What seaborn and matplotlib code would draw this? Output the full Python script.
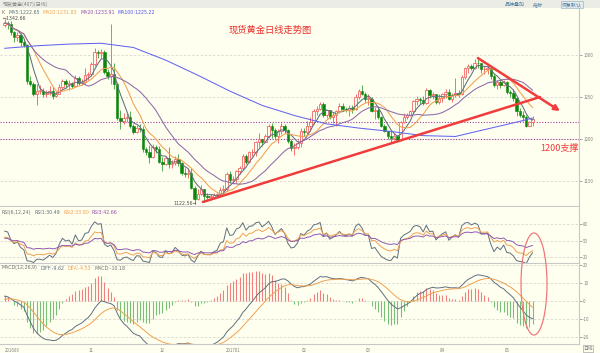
import matplotlib
matplotlib.use("Agg")
import matplotlib.pyplot as plt
from matplotlib.patches import Ellipse, Rectangle
import numpy as np
import pandas as pd
import seaborn as sns

# spot gold daily candles, first bar 2016-09-23, one bar per weekday
start_date = "2016-09-23"
first_open = 1336.0
closes = [
    1338, 1337, 1327, 1322, 1324, 1316,
    1312, 1269, 1266, 1253, 1257, 1257, 1253, 1255, 1257, 1251, 1254, 1262, 1269, 1266, 1267,
    1263, 1273, 1267, 1268, 1276, 1277,
    1289, 1304, 1302, 1304, 1280, 1275, 1277, 1266, 1225, 1222, 1225, 1226, 1216, 1208, 1213,
    1212, 1188, 1184, 1178, 1190, 1188, 1173,
    1170, 1177, 1170, 1171, 1176, 1171, 1160, 1158, 1159, 1142, 1129, 1135, 1140, 1132, 1131,
    1131, 1133, 1134, 1139, 1140, 1158, 1151,
    1152, 1162, 1165, 1180, 1173, 1184, 1185, 1196, 1200, 1196, 1203, 1216, 1211, 1203, 1209,
    1216, 1211, 1198, 1189, 1190, 1195, 1210,
    1208, 1216, 1220, 1233, 1236, 1242, 1228, 1234, 1226, 1229, 1233, 1239, 1236, 1235, 1237,
    1236, 1250, 1257, 1254, 1248,
    1248, 1233, 1234, 1226, 1216, 1209, 1203, 1201, 1204, 1199, 1220, 1226, 1229, 1233, 1245,
    1248, 1247, 1243, 1258, 1252, 1253, 1244, 1249,
    1253, 1256, 1248, 1252, 1255, 1253, 1274, 1285, 1287, 1285, 1291, 1290, 1283, 1283, 1284,
    1275, 1264, 1268, 1264, 1268,
    1256, 1255, 1249, 1233, 1228, 1226, 1215, 1220, 1224,
]
highs = [
    1342.66, 1341, 1340, 1329, 1327, 1326,
    1318, 1313, 1275, 1268, 1266, 1264, 1261, 1258, 1263, 1262, 1257, 1265, 1272, 1271, 1270,
    1268, 1276, 1275, 1271, 1284, 1280,
    1292, 1308, 1306, 1307, 1306, 1283, 1337.4, 1290, 1268, 1234, 1231, 1231, 1233, 1218, 1217,
    1218, 1215, 1191, 1193, 1194, 1193, 1192,
    1178, 1180, 1190, 1175, 1180, 1182, 1173, 1165, 1164, 1165, 1144, 1140, 1145, 1141, 1136,
    1134, 1136, 1136, 1143, 1145, 1161, 1162,
    1156, 1163, 1168, 1182, 1182, 1186, 1188, 1198, 1207, 1200, 1206, 1218, 1219, 1213, 1212,
    1219, 1218, 1212, 1200, 1195, 1199, 1213,
    1213, 1221, 1226, 1236, 1239, 1244, 1244, 1235, 1234, 1232, 1235, 1243, 1243, 1238, 1241,
    1240, 1253, 1259, 1264, 1256,
    1253, 1250, 1238, 1238, 1227, 1218, 1210, 1209, 1207, 1205, 1222, 1231, 1231, 1235, 1247,
    1251, 1250, 1251, 1261, 1259, 1256, 1254, 1253,
    1255, 1260, 1259, 1255, 1273, 1258, 1276, 1286, 1289, 1289, 1295, 1295, 1291, 1287, 1288,
    1284, 1277, 1270, 1270, 1270,
    1269, 1258, 1259, 1239, 1237, 1233, 1229, 1222, 1227,
]
lows = [
    1333, 1331, 1324, 1316, 1317, 1311,
    1310, 1266, 1263, 1251, 1241, 1253, 1250, 1250, 1252, 1248, 1250, 1253, 1260, 1261, 1258,
    1261, 1262, 1264, 1264, 1265, 1270,
    1275, 1287, 1296, 1297, 1277, 1271, 1266, 1259, 1223, 1212, 1218, 1220, 1213, 1206, 1207,
    1208, 1184, 1181, 1171, 1177, 1183, 1171,
    1162, 1169, 1165, 1165, 1169, 1168, 1157, 1155, 1154, 1140, 1122.56, 1127, 1133, 1125, 1128,
    1127, 1128, 1131, 1132, 1135, 1138, 1148,
    1146, 1147, 1158, 1163, 1170, 1172, 1180, 1180, 1190, 1192, 1196, 1201, 1201, 1200, 1195,
    1206, 1207, 1195, 1186, 1181, 1188, 1191,
    1204, 1206, 1210, 1218, 1229, 1235, 1226, 1225, 1224, 1219, 1216, 1231, 1233, 1232, 1227,
    1231, 1234, 1248, 1252, 1244,
    1241, 1232, 1224, 1224, 1214, 1208, 1200, 1195, 1199, 1196, 1198, 1219, 1224, 1227, 1231,
    1240, 1242, 1241, 1242, 1249, 1248, 1242, 1242,
    1244, 1249, 1246, 1244, 1250, 1250, 1252, 1271, 1278, 1282, 1283, 1284, 1278, 1277, 1277,
    1271, 1262, 1260, 1261, 1263,
    1254, 1250, 1245, 1227, 1226, 1221, 1214, 1215, 1215,
]

# MA100 (needs history before the first bar)
ma100_idx = [0, 10, 20, 30, 40, 50, 60, 70, 80, 90, 100, 110, 120, 130, 140, 150, 160, 164]
ma100_val = [1308, 1311, 1313, 1314, 1309, 1294, 1276, 1257, 1240, 1228, 1218, 1213, 1209,
             1204, 1203, 1212, 1221, 1225]

rsi_periods = [6, 12, 24]
rsi_start = [68, 57, 55]
macd_start_diff = 3.0
macd_start_dea = 0.5

month_labels = ["201609", "11", "12", "201701", "02", "03", "04", "05"]
month_starts = ["2016-09-23", "2016-11-01", "2016-12-01", "2017-01-02", "2017-02-01",
                "2017-03-01", "2017-04-03", "2017-05-01"]
price_ticks = [1150, 1200, 1250, 1300]
rsi_ticks = [20, 50, 80]
macd_ticks = [-20, -10, 0, 10, 20]
level_lines = [1220, 1200]

# hand-drawn trend lines (bar index, price)
support_x, support_y = [61.6, 166.3], [1125, 1250]
resist_x, resist_y = [147.0, 172.5], [1296.4, 1233.3]

legend_main = [("K", "#707070"), ("MA5:1222.65", "#5F6F7F"), ("MA10:1231.83", "#F0A050"),
               ("MA20:1233.91", "#9050A8"), ("MA100:1225.22", "#5050F0")]
legend_rsi = [("RSI(6,12,24)", "#707070"), ("RSI1:30.49", "#5F6F7F"), ("RSI2:33.80", "#F0A050"),
              ("RSI3:42.66", "#9050A8")]
legend_macd = [("MACD(12,26,9)", "#707070"), ("DIFF:-9.62", "#5F6F7F"), ("DEA:-4.53", "#F0A050"),
               ("MACD:-10.18", "#707070")]

BG = "#FFFFF0"
RED = "#F05A5A"
GREEN = "#0A870A"
C_MA5, C_MA10, C_MA20, C_MA100 = "#5F6F7F", "#F0A050", "#8E6AA8", "#6464F0"
GRID = "#D8D8D0"
ANNOT = "#F03C3C"

sns.set_style("white", {"axes.facecolor": BG})
plt.rcParams["font.family"] = ["Noto Sans CJK SC", "DejaVu Sans"]
plt.rcParams["axes.unicode_minus"] = False

# ---- data frame and indicators
dates = pd.bdate_range(start_date, periods=len(closes))
df = pd.DataFrame({"x": np.arange(len(closes)), "close": closes, "high": highs, "low": lows})
df["open"] = df["close"].shift(1).fillna(first_open)
for n in (5, 10, 20):
    df[f"ma{n}"] = df["close"].rolling(n, min_periods=1).mean()
ma100 = pd.DataFrame({"x": ma100_idx, "ma100": ma100_val})


def rsi_sma(close, n, start, move=8.0):
    up, ab = start / 100 * move, move
    out = [start]
    for d in np.diff(close):
        up = (max(d, 0) + (n - 1) * up) / n
        ab = (abs(d) + (n - 1) * ab) / n
        out.append(100 * up / ab)
    return out


def ema(values, n, start):
    a, e, out = 2 / (n + 1), start, []
    for v in values:
        e = a * v + (1 - a) * e
        out.append(e)
    return np.array(out)


for i, (n, s) in enumerate(zip(rsi_periods, rsi_start)):
    df[f"rsi{i + 1}"] = rsi_sma(df["close"].values, n, s)
e12 = ema(df["close"], 12, first_open + macd_start_diff)
e26 = ema(df["close"], 26, first_open)
df["diff"] = e12 - e26
df["dea"] = ema(df["diff"], 9, macd_start_dea)
df["macd"] = 2 * (df["diff"] - df["dea"])

# ---- figure layout in pixels (600 x 353)
W, H = 600, 353
fig = plt.figure(figsize=(6, 3.53), dpi=100, facecolor=BG)


def px_axes(top, bottom, right=579):
    return fig.add_axes([0, 1 - bottom / H, right / W, (bottom - top) / H])


ax = px_axes(9, 206)
ax_rsi = px_axes(207, 263)
ax_macd = px_axes(264, 344)
xlim = (-1.4, 178.4)

# ---- candles
up = df["close"] >= df["open"]
dn = ~up
ax.vlines(df.loc[up, "x"], df.loc[up, "low"], df.loc[up, "high"], color=RED, lw=0.6)
ax.vlines(df.loc[dn, "x"], df.loc[dn, "low"], df.loc[dn, "high"], color="#3CA03C", lw=0.6)
body = (df["close"] - df["open"]).abs().clip(lower=0.8)
bottom = df[["open", "close"]].min(axis=1)
ax.bar(df.loc[up, "x"], body[up], bottom=bottom[up], width=0.75, facecolor=BG,
       edgecolor=RED, linewidth=0.55, zorder=3)
ax.bar(df.loc[dn, "x"], body[dn], bottom=bottom[dn], width=0.75, facecolor=GREEN,
       edgecolor=GREEN, linewidth=0.4, zorder=3)

for col, c in (("ma5", C_MA5), ("ma10", C_MA10), ("ma20", C_MA20)):
    sns.lineplot(data=df, x="x", y=col, color=c, linewidth=0.75, ax=ax, zorder=4)
sns.lineplot(data=ma100, x="x", y="ma100", color=C_MA100, linewidth=0.75, ax=ax, zorder=4)

for p in price_ticks:
    ax.axhline(p, color=GRID, lw=0.6, ls=(0, (3, 2)), zorder=0)
for p in level_lines:
    ax.axhline(p, color="#A040A0", lw=0.8, ls=(0, (1, 1.5)), zorder=2)

ax.plot(support_x, support_y, color=ANNOT, lw=1.8, solid_capstyle="round", zorder=6)
ax.annotate("", xy=(resist_x[1], resist_y[1]), xytext=(resist_x[0], resist_y[0]),
            arrowprops=dict(arrowstyle="-|>", color=ANNOT, lw=1.8, mutation_scale=8,
                            shrinkA=0, shrinkB=0), zorder=6)
ax.text(166.3, 1189, "1200支撑", color=ANNOT, fontsize=6.5, va="center", ha="left")
ax.set_ylim(1120.2, 1354.8)
ax.set_yticks(price_ticks)

# ---- RSI
for col, c in (("rsi1", C_MA5), ("rsi2", C_MA10), ("rsi3", "#8E5AB0")):
    sns.lineplot(data=df, x="x", y=col, color=c, linewidth=0.7, ax=ax_rsi)
for v in rsi_ticks:
    ax_rsi.axhline(v, color=GRID, lw=0.6, ls=(0, (3, 2)), zorder=0)
ax_rsi.set_ylim(10, 111.8)
ax_rsi.set_yticks(rsi_ticks)

# ---- MACD
bar_cols = np.where(df["macd"] >= 0, "#F08080", "#78C078")
ax_macd.vlines(df["x"], 0, df["macd"], colors=bar_cols, lw=0.8)
sns.lineplot(data=df, x="x", y="diff", color=C_MA5, linewidth=0.7, ax=ax_macd)
sns.lineplot(data=df, x="x", y="dea", color=C_MA10, linewidth=0.7, ax=ax_macd)
for v in macd_ticks:
    ax_macd.axhline(v, color=GRID, lw=0.6, ls=(0, (3, 2)), zorder=0)
ax_macd.set_ylim(-23.9, 20.6)
ax_macd.set_yticks(macd_ticks)
tick_pos = [dates.get_loc(pd.Timestamp(d)) for d in month_starts]
ax_macd.set_xticks(tick_pos)
ax_macd.set_xticklabels(month_labels)

for a in (ax, ax_rsi, ax_macd):
    a.set_xlim(*xlim)
    a.set(xlabel="", ylabel="")
    a.set_facecolor(BG)
    a.yaxis.tick_right()
    a.tick_params(axis="y", labelsize=3.2, colors="#808080", length=2, width=0.5, pad=1)
    a.tick_params(axis="x", labelsize=3.2, colors="#808080", length=2, width=0.5, pad=1)
    for s in ("left", "top"):
        a.spines[s].set_visible(False)
    for s in ("right", "bottom"):
        a.spines[s].set_color("#C8C8C8")
        a.spines[s].set_linewidth(0.8)
for a in (ax, ax_rsi):
    a.set_xticks([])
ax_macd.get_xticklabels()[0].set_horizontalalignment("left")


# ---- texts and decorations in pixel coordinates
def ftext(x, y, s, **kw):
    return fig.text(x / W, 1 - y / H, s, **kw)


fig.add_artist(Rectangle((0, 1 - 8 / H), 1, 8 / H, transform=fig.transFigure,
                         facecolor="#ECECE6", edgecolor="none"))
ftext(3, 4.5, "现货黄金(407)(日线)", fontsize=3.6, color="#808080", va="center")
ftext(525, 4.5, "品种叠加", fontsize=3.6, color="#4A7A9A", va="center", ha="right")
ftext(543, 4.5, "指标", fontsize=3.6, color="#4A7A9A", va="center", ha="right")
ftext(572, 4.5, "恢复默认", fontsize=3.6, color="#4A7A9A", va="center", ha="center",
      bbox=dict(boxstyle="square,pad=0.2", fc="#E4ECF0", ec="#8AA8B8", lw=0.4))

renderer = fig.canvas.get_renderer()


def colored_row(x, y, items, gap=3.0):
    for s, c in items:
        t = ftext(x, y, s, fontsize=3.4, color=c, va="center", family=["DejaVu Sans"])
        x += t.get_window_extent(renderer).width + gap


colored_row(2, 12, legend_main)
colored_row(2, 212, legend_rsi)
colored_row(2, 268, legend_macd)

ftext(3, 18.5, "←1342.66", fontsize=3.4, color="#505050", va="center", family=["DejaVu Sans"])
ftext(197, 203, "1122.56→", fontsize=3.4, color="#505050", va="center", ha="right",
      family=["DejaVu Sans"])
ftext(270, 30, "现货黄金日线走势图", fontsize=6.7, color="#E8302A", ha="center", va="center")
ftext(588, 348.5, "日线", fontsize=3.4, color="#707070", ha="center", va="center",
      bbox=dict(boxstyle="square,pad=0.15", fc=BG, ec="#909090", lw=0.4))

fig.add_artist(Ellipse((534 / W, 1 - 284 / H), 26 / W, 102 / H, transform=fig.transFigure,
                       fill=False, ec="#F07878", lw=0.9))

fig.savefig("out.png", dpi=100, facecolor=BG)
